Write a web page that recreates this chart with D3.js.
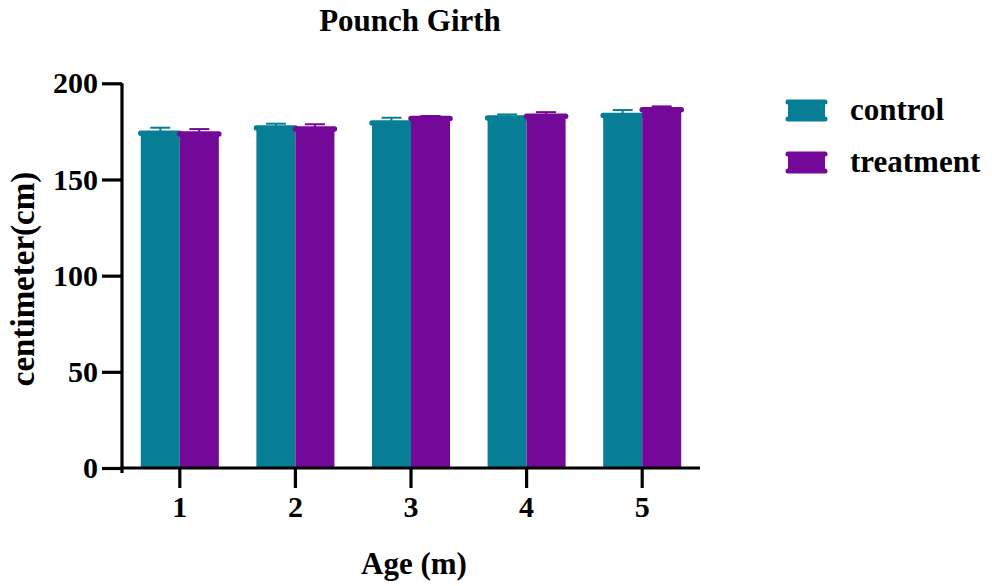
<!DOCTYPE html>
<html>
<head>
<meta charset="utf-8">
<script src="https://cdn.jsdelivr.net/npm/d3@7"></script>
<style>
  html, body { margin: 0; padding: 0; background: #fff; }
  svg text { font-family: "Liberation Serif", "Times New Roman", serif; font-weight: bold; fill: #000; }
</style>
</head>
<body>
<svg id="chart" width="992" height="586"></svg>
<script>
// Age groups (months) and the two series: mean and SD of pounch girth
const ages = ["1", "2", "3", "4", "5"];
const seriesNames = ["control", "treatment"];
const controlMean = [174.0, 176.8, 179.3, 182.0, 183.2];
const controlSD   = [2.9, 2.2, 2.8, 1.8, 2.9];
const treatmentMean = [173.6, 176.3, 181.7, 182.9, 186.2];
const treatmentSD   = [2.6, 2.4, 1.3, 2.1, 1.8];
const yTicks = [0, 50, 100, 150, 200];
const colors = { control: "#077e95", treatment: "#740898" };

const series = [
  { name: "control", mean: controlMean, sd: controlSD },
  { name: "treatment", mean: treatmentMean, sd: treatmentSD }
];

const svg = d3.select("#chart");
const plotLeft = 122, plotRight = 700, plotTop = 83.3, plotBottom = 468;

const x = d3.scaleBand().domain(ages).range([plotLeft, plotRight])
  .paddingInner(0.325).paddingOuter(0.1625);
const x1 = d3.scaleBand().domain(seriesNames).range([0, x.bandwidth()]);
const y = d3.scaleLinear().domain([0, 200]).range([plotBottom, plotTop]);

// Bars, one series at a time so the second overlays the first
series.forEach(s => {
  const g = svg.append("g").attr("class", "series-" + s.name);
  const col = colors[s.name];
  const data = ages.map((a, i) => ({ age: a, mean: s.mean[i], sd: s.sd[i] }));
  const bx = d => x(d.age) + x1(s.name);
  const bw = x1.bandwidth();

  // upper error bar: stem and cap
  g.selectAll(".stem").data(data).join("line")
    .attr("x1", d => bx(d) + bw / 2).attr("x2", d => bx(d) + bw / 2)
    .attr("y1", d => y(d.mean)).attr("y2", d => y(d.mean + d.sd))
    .attr("stroke", col).attr("stroke-width", 2);
  g.selectAll(".cap").data(data).join("line")
    .attr("x1", d => bx(d) + bw / 2 - 10).attr("x2", d => bx(d) + bw / 2 + 10)
    .attr("y1", d => y(d.mean + d.sd)).attr("y2", d => y(d.mean + d.sd))
    .attr("stroke", col).attr("stroke-width", 2);

  // bar body
  g.selectAll(".bar").data(data).join("rect")
    .attr("x", d => bx(d)).attr("width", bw)
    .attr("y", d => y(d.mean)).attr("height", d => y(0) - y(d.mean))
    .attr("fill", col);

  // rounded top edge of each bar
  g.selectAll(".edge").data(data).join("line")
    .attr("x1", d => bx(d)).attr("x2", d => bx(d) + bw)
    .attr("y1", d => y(d.mean)).attr("y2", d => y(d.mean))
    .attr("stroke", col).attr("stroke-width", 5.5).attr("stroke-linecap", "round");
});

// Axes
const yAxis = svg.append("g").attr("transform", `translate(${plotLeft},0)`)
  .call(d3.axisLeft(y).tickValues(yTicks).tickSize(20).tickSizeOuter(0).tickPadding(4));
const xAxis = svg.append("g").attr("transform", `translate(0,${plotBottom})`)
  .call(d3.axisBottom(x).tickSize(20).tickSizeOuter(0).tickPadding(8));

[yAxis, xAxis].forEach(ax => {
  ax.select(".domain").attr("stroke", "#000").attr("stroke-width", 3.2);
  ax.selectAll(".tick line").attr("stroke", "#000").attr("stroke-width", 3.2);
  ax.selectAll(".tick text")
    .style("font-family", '"Liberation Serif", "Times New Roman", serif')
    .style("font-weight", "bold").style("font-size", "30px").attr("fill", "#000");
});
// axis lines meet at the corner
xAxis.select(".domain").attr("d", `M${plotLeft - 1.6},0H${plotRight}`);
yAxis.select(".domain").attr("d", `M0,${plotBottom + 5}V${plotTop}`);

// Title and axis titles
svg.append("text").attr("x", 410).attr("y", 31).attr("text-anchor", "middle")
  .style("font-size", "31px").text("Pounch Girth");
svg.append("text").attr("x", 414).attr("y", 574).attr("text-anchor", "middle")
  .style("font-size", "31px").text("Age (m)");
svg.append("text").attr("transform", `translate(34,279) rotate(-90)`)
  .attr("text-anchor", "middle").style("font-size", "33px").text("centimeter(cm)");

// Legend
const legend = svg.append("g");
seriesNames.forEach((name, i) => {
  const yy = 110.5 + i * 52;
  const col = colors[name];
  const lg = legend.append("g");
  lg.append("rect").attr("x", 788).attr("y", yy - 9).attr("width", 37).attr("height", 18).attr("fill", col);
  [yy - 8.5, yy + 8.5].forEach(ly => {
    lg.append("line").attr("x1", 788).attr("x2", 825).attr("y1", ly).attr("y2", ly)
      .attr("stroke", col).attr("stroke-width", 5).attr("stroke-linecap", "round");
  });
  lg.append("text").attr("x", 850).attr("y", yy + 9).style("font-size", "31px").text(name);
});
</script>
</body>
</html>
